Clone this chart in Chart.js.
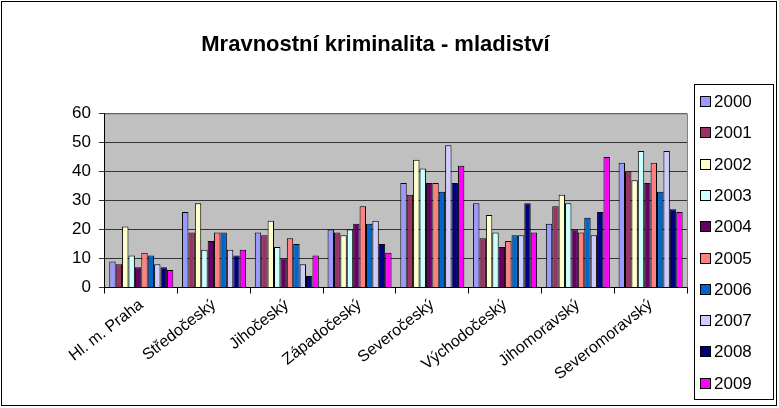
<!DOCTYPE html>
<html>
  <head>
    <meta charset="UTF-8" />
    <title>Mravnostní kriminalita - mladiství</title>
    <style>
      html, body { margin: 0; padding: 0; background: #fff; }
    </style>
  </head>
  <body>
    <canvas id="myCanvas" width="779" height="408"></canvas>
    <script src="https://cdn.jsdelivr.net/npm/chart.js@4.4.1/dist/chart.umd.min.js"></script>
    <script>
      // kraje
      const regions = ["Hl. m. Praha", "Středočeský", "Jihočeský", "Západočeský",
        "Severočeský", "Východočeský", "Jihomoravský", "Severomoravský"];
      const years = ["2000", "2001", "2002", "2003", "2004", "2005", "2006", "2007", "2008", "2009"];
      const yTicks = [0, 10, 20, 30, 40, 50, 60];

      // hodnoty po letech (poradi jako regions)
      const v2000 = [9, 26, 19, 20, 36, 29, 22, 43];
      const v2001 = [8, 19, 18, 19, 32, 17, 28, 40];
      const v2002 = [21, 29, 23, 18, 44, 25, 32, 37];
      const v2003 = [11, 13, 14, 20, 41, 19, 29, 47];
      const v2004 = [7, 16, 10, 22, 36, 14, 20, 36];
      const v2005 = [12, 19, 17, 28, 36, 16, 19, 43];
      const v2006 = [11, 19, 15, 22, 33, 18, 24, 33];
      const v2007 = [8, 13, 8, 23, 49, 18, 18, 47];
      const v2008 = [7, 11, 4, 15, 36, 29, 26, 27];
      const v2009 = [6, 13, 11, 12, 42, 19, 45, 26];
      const values = [v2000, v2001, v2002, v2003, v2004, v2005, v2006, v2007, v2008, v2009];

      const colors = ["#9999FF", "#993366", "#FFFFCC", "#CCFFFF", "#660066",
        "#FF8080", "#0066CC", "#CCCCFF", "#000080", "#FF00FF"];

      const FONT = "'Liberation Sans', Arial, sans-serif";
      Chart.defaults.font.family = FONT;
      Chart.defaults.color = "#000";

      // seda plocha grafu + ramecky
      const plotBg = {
        id: "plotBg",
        beforeDraw(chart) {
          const { ctx, chartArea: a } = chart;
          ctx.save();
          ctx.fillStyle = "#fff";
          ctx.fillRect(0, 0, chart.width, chart.height);
          ctx.fillStyle = "#C0C0C0";
          ctx.fillRect(a.left, a.top, a.right - a.left, a.bottom - a.top);
          ctx.restore();
        },
        afterDraw(chart) {
          const { ctx, chartArea: a } = chart;
          ctx.save();
          ctx.strokeStyle = "#808080";
          ctx.lineWidth = 1;
          ctx.beginPath();
          ctx.moveTo(a.left, a.top + 0.5);
          ctx.lineTo(a.right + 0.5, a.top + 0.5);
          ctx.lineTo(a.right + 0.5, a.bottom);
          ctx.stroke();
          ctx.strokeStyle = "#000";
          ctx.strokeRect(1.5, 1.5, chart.width - 4, chart.height - 4);
          ctx.restore();
        }
      };

      // legenda v ramecku vpravo
      const boxLegend = {
        id: "boxLegend",
        afterDraw(chart) {
          const { ctx } = chart;
          const x0 = 694;
          const top = 84, bottom = 399, right = 773;
          ctx.save();
          ctx.fillStyle = "#fff";
          ctx.fillRect(x0 + 0.5, top + 0.5, right - x0, bottom - top);
          ctx.strokeStyle = "#000";
          ctx.lineWidth = 1;
          ctx.strokeRect(x0 + 0.5, top + 0.5, right - x0, bottom - top);
          ctx.font = "17px " + FONT;
          ctx.textBaseline = "middle";
          chart.data.datasets.forEach((ds, i) => {
            const y = Math.round(101 + i * 31.3);
            ctx.fillStyle = ds.backgroundColor;
            ctx.fillRect(x0 + 6.5, y - 4.5, 10, 10);
            ctx.strokeStyle = "#000";
            ctx.strokeRect(x0 + 6.5, y - 4.5, 10, 10);
            ctx.fillStyle = "#000";
            ctx.fillText(ds.label, x0 + 20, y + 1);
          });
          ctx.restore();
        }
      };

      const ctx = document.getElementById("myCanvas").getContext("2d");
      const myChart = new Chart(ctx, {
        type: "bar",
        data: {
          labels: regions,
          datasets: years.map((y, i) => ({
            label: y,
            data: values[i],
            backgroundColor: colors[i],
            borderColor: "#000",
            borderWidth: 1,
            barPercentage: 1.0,
            categoryPercentage: 0.88
          }))
        },
        options: {
          responsive: false,
          animation: false,
          layout: { padding: { left: 64, right: 92, bottom: 22, top: 0 } },
          plugins: {
            legend: { display: false },
            tooltip: { enabled: false },
            title: {
              display: true,
              text: "Mravnostní kriminalita - mladiství",
              font: { size: 22, weight: "bold", family: FONT },
              color: "#000",
              padding: { top: 32, bottom: 55 }
            }
          },
          scales: {
            x: {
              grid: { drawOnChartArea: false, drawTicks: true, tickLength: 6, color: "#000" },
              border: { color: "#000" },
              ticks: { maxRotation: 38, minRotation: 38, font: { size: 16 }, color: "#000", padding: 2 }
            },
            y: {
              min: 0,
              max: 60,
              afterBuildTicks(axis) { axis.ticks = yTicks.map(v => ({ value: v })); },
              grid: { color: "#333", tickLength: 6 },
              border: { color: "#000" },
              ticks: { font: { size: 17 }, color: "#000", padding: 8 }
            }
          }
        },
        plugins: [plotBg, boxLegend]
      });
    </script>
  </body>
</html>
